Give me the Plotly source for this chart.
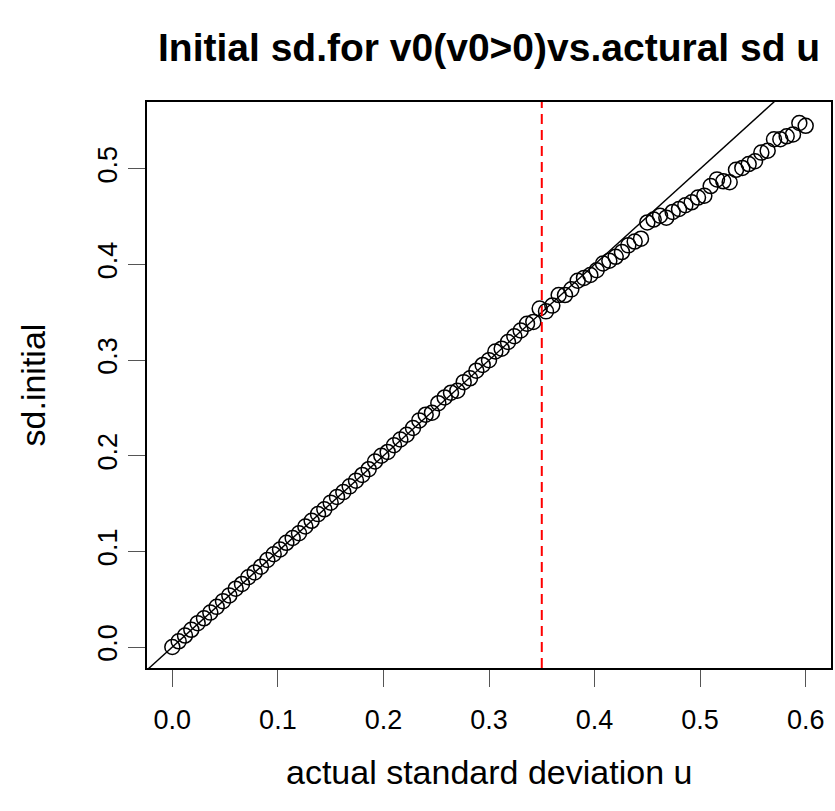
import plotly.graph_objects as go

# actual sd u (x) and initial sd estimate (y)
step = 0.006
n_points = 101
sd_actual = [round(i * step, 3) for i in range(n_points)]
sd_initial = [
    0.000, 0.006, 0.012, 0.018, 0.025, 0.030, 0.036, 0.042, 0.048, 0.054,
    0.061, 0.066, 0.073, 0.078, 0.084, 0.091, 0.097, 0.102, 0.109, 0.114,
    0.119, 0.126, 0.132, 0.139, 0.144, 0.151, 0.157, 0.162, 0.168, 0.174,
    0.180, 0.186, 0.194, 0.200, 0.204, 0.211, 0.217, 0.222, 0.229, 0.237,
    0.243, 0.245, 0.255, 0.261, 0.266, 0.268, 0.277, 0.281, 0.289, 0.295,
    0.300, 0.309, 0.312, 0.319, 0.325, 0.331, 0.338, 0.340, 0.354, 0.351,
    0.357, 0.368, 0.368, 0.374, 0.383, 0.386, 0.389, 0.394, 0.401, 0.404,
    0.408, 0.413, 0.420, 0.424, 0.427, 0.444, 0.447, 0.451, 0.449, 0.455,
    0.458, 0.462, 0.465, 0.470, 0.472, 0.482, 0.489, 0.487, 0.486, 0.499,
    0.501, 0.505, 0.508, 0.517, 0.519, 0.531, 0.531, 0.534, 0.536, 0.548,
    0.545,
]
cutoff = 0.35
abline_a, abline_b = 0.0, 1.0

x_ticks = [0.0, 0.1, 0.2, 0.3, 0.4, 0.5, 0.6]
y_ticks = [0.0, 0.1, 0.2, 0.3, 0.4, 0.5]
x_tick_text = ["0.0", "0.1", "0.2", "0.3", "0.4", "0.5", "0.6"]
y_tick_text = ["0.0", "0.1", "0.2", "0.3", "0.4", "0.5"]

# R-style 4% axis padding
def padded(lo, hi, f=0.04):
    d = (hi - lo) * f
    return [lo - d, hi + d]

x_range = padded(min(sd_actual), max(sd_actual))
y_range = padded(min(sd_initial), max(sd_initial))

FONT = "Liberation Sans, Arial, sans-serif"

fig = go.Figure()

# identity reference line y = a + b x across the whole x range
fig.add_trace(go.Scatter(
    x=x_range,
    y=[abline_a + abline_b * v for v in x_range],
    mode="lines",
    line=dict(color="black", width=1.4),
    hoverinfo="skip",
    showlegend=False,
))

fig.add_trace(go.Scatter(
    x=sd_actual, y=sd_initial,
    mode="markers",
    marker=dict(symbol="circle-open", size=15, color="black",
                line=dict(color="black", width=1.5)),
    showlegend=False,
    cliponaxis=False,
))

fig.add_shape(type="line", xref="x", yref="paper",
              x0=cutoff, x1=cutoff, y0=0, y1=1,
              line=dict(color="red", width=2, dash="10px,6px"))

axis_common = dict(
    showgrid=False, zeroline=False,
    showline=True, linecolor="black", linewidth=1.5, mirror=True,
    ticks="outside", ticklen=17, tickwidth=1.2, tickcolor="#555",
    tickfont=dict(family=FONT, size=27, color="black"),
)

fig.update_xaxes(range=x_range, tickvals=x_ticks, ticktext=x_tick_text,
                 ticklabelstandoff=10, **axis_common)
fig.update_yaxes(range=y_range, tickvals=y_ticks, ticktext=y_tick_text,
                 tickangle=-90, ticklabelstandoff=0, **axis_common)

fig.add_annotation(text="actual standard deviation u", xref="paper", yref="paper",
                   x=0.5, y=-0.184, xanchor="center", yanchor="middle",
                   showarrow=False, font=dict(family=FONT, size=34, color="black"))
fig.add_annotation(text="sd.initial", xref="paper", yref="paper",
                   x=-0.166, y=0.5, xanchor="center", yanchor="middle", textangle=-90,
                   showarrow=False, font=dict(family=FONT, size=34, color="black"))
fig.add_annotation(text="<b>Initial sd.for v0(v0>0)vs.actural sd u</b>",
                   xref="paper", yref="paper",
                   x=0.5, y=1.097, xanchor="center", yanchor="middle",
                   showarrow=False, font=dict(family=FONT, size=39, color="black"))

fig.update_layout(
    width=835, height=811,
    margin=dict(l=147, r=2, t=102, b=143),
    paper_bgcolor="white", plot_bgcolor="white",
)

fig.write_html("out.html")
